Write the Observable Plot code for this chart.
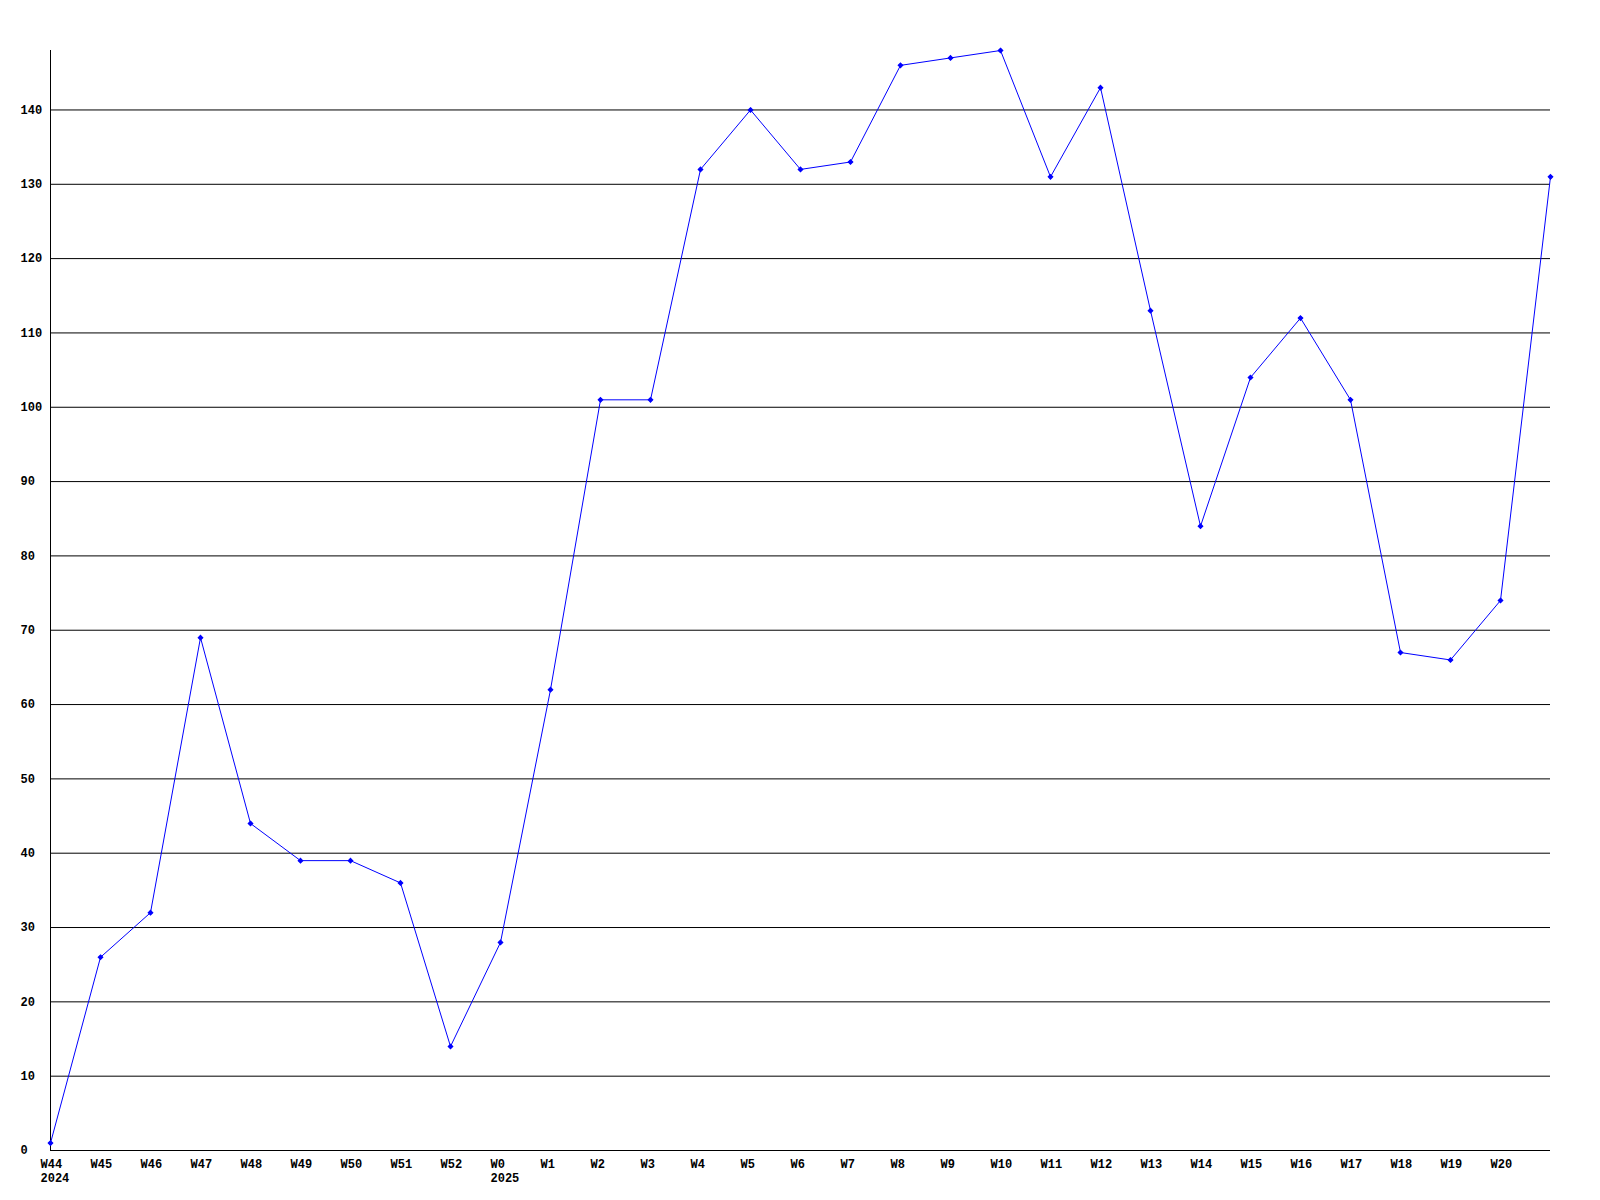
<!DOCTYPE html>
<html>
<head>
<meta charset="utf-8">
<script src="https://cdn.jsdelivr.net/npm/d3@7"></script>
<script src="https://cdn.jsdelivr.net/npm/@observablehq/plot@0.6"></script>
<style>
  html, body { margin: 0; padding: 0; background: #ffffff; }
  #chart svg { display: block; }
</style>
</head>
<body>
<div id="chart"></div>
<script>
// Week tick labels (W21 point at the right edge is unlabeled)
const weekLabels = ["W44","W45","W46","W47","W48","W49","W50","W51","W52","W0",
  "W1","W2","W3","W4","W5","W6","W7","W8","W9","W10",
  "W11","W12","W13","W14","W15","W16","W17","W18","W19","W20"];
const yearLabels = ["2024","","","","","","","","","2025",
  "","","","","","","","","","",
  "","","","","","","","","",""];
// Series values W44 2024 .. W21 2025
const values = [1,26,32,69,44,39,39,36,14,28,
  62,101,101,132,140,132,133,146,147,148,
  131,143,113,84,104,112,101,67,66,74,131];
const yTicks = [0,10,20,30,40,50,60,70,80,90,100,110,120,130,140];
const gridLines = yTicks.filter(d => d > 0);

const pts = values.map((v, i) => ({i, v}));
const labelIdx = weekLabels.map((_, i) => i);

const chart = Plot.plot({
  width: 1600,
  height: 1200,
  marginTop: 50,
  marginLeft: 50,
  marginRight: 50,
  marginBottom: 50,
  style: {fontFamily: "'Liberation Mono', 'DejaVu Sans Mono', monospace", fontSize: "12px", fontWeight: "bold", background: "#ffffff", color: "#000000"},
  x: {type: "linear", domain: [0, values.length - 1], axis: null},
  y: {domain: [0, 148], axis: null},
  marks: [
    Plot.ruleY(gridLines, {stroke: "#000000", strokeWidth: 1, strokeOpacity: 1}),
    Plot.ruleY([0], {stroke: "#000000", strokeWidth: 1}),
    Plot.ruleX([0], {stroke: "#000000", strokeWidth: 1}),
    Plot.text(yTicks, {y: d => d, frameAnchor: "left", dx: -30, textAnchor: "start", text: d => String(d), fill: "#000000"}),
    Plot.text(labelIdx, {x: i => i, frameAnchor: "bottom", dy: 7, dx: -10, textAnchor: "start", lineAnchor: "top", lineHeight: 1.2,
      text: i => weekLabels[i] + (yearLabels[i] ? "\n" + yearLabels[i] : ""), fill: "#000000"}),
    Plot.line(pts, {x: "i", y: "v", stroke: "#0000ff", strokeWidth: 1}),
    Plot.dot(pts, {x: "i", y: "v", symbol: "diamond2", r: 2, fill: "#0000ff", stroke: "#0000ff", strokeWidth: 1.2})
  ]
});
document.getElementById("chart").appendChild(chart);
</script>
</body>
</html>
